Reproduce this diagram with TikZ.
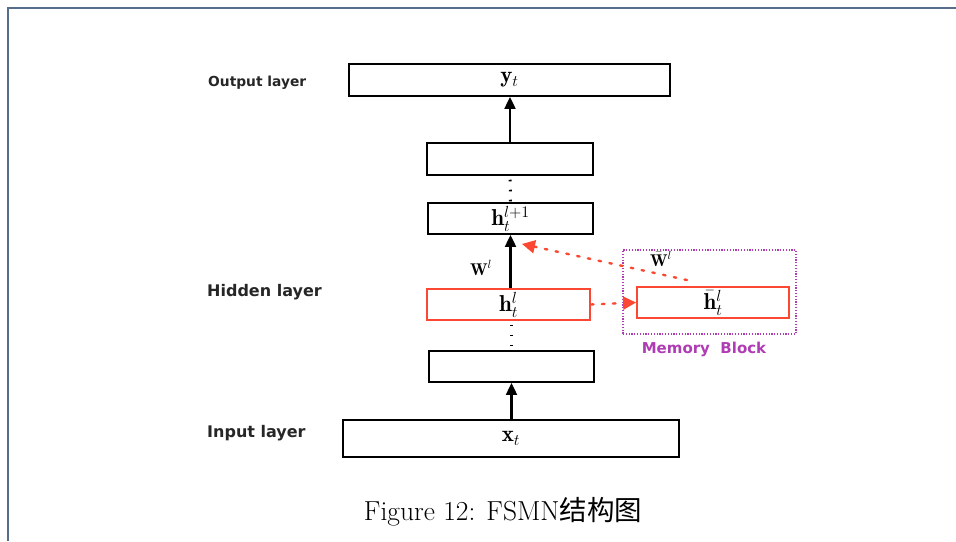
\documentclass[tikz,border=0pt]{standalone}
\usepackage{fix-cm}
\usepackage{fontspec}
\usetikzlibrary{arrows.meta}
\newfontfamily\lblfont{DejaVu Sans}
\newfontfamily\cjk{Noto Sans CJK SC}

\definecolor{framecol}{RGB}{86,110,140}
\definecolor{memred}{RGB}{250,72,50}
\definecolor{mempurple}{RGB}{175,60,180}

\tikzset{
  layerbox/.style={draw=black, line width=1.9pt, minimum height=#1, inner sep=0pt},
  layerbox/.default=31pt,
  redbox/.style={draw=memred, line width=1.9pt, minimum height=31pt, inner sep=0pt},
  sidelabel/.style={anchor=west, inner sep=0pt, font=\lblfont\bfseries\fontsize{16}{18}\selectfont, text=black!85},
  mathlbl/.style={inner sep=0pt, font=\fontsize{23}{27}\selectfont},
  wlbl/.style={inner sep=0pt, font=\fontsize{17}{20}\selectfont},
  uparrow/.style={line width=2.2pt, -{Triangle[length=12pt,width=11pt]}},
  redarrow/.style={draw=memred, line width=2.4pt, dash pattern=on 2.5pt off 8.5pt, line cap=round,
                   -{Triangle[length=13pt,width=13pt,fill=memred]}},
  gapdots/.style={line width=3pt, dash pattern=on 1.6pt off 8.4pt, dash phase=6.2pt}
}

\begin{document}
\begin{tikzpicture}[x=1pt, y=-1pt]
  \useasboundingbox (0,0) rectangle (956,541);

  % page frame
  \draw[framecol, line width=2pt] (7.5,541) -- (7.5,7.5) -- (956,7.5);

  % layer boxes
  \node[layerbox=32pt, minimum width=321pt] (out) at (509.5,80) {};
  \node[mathlbl] at (out) {$\mathbf{y}_t$};
  \node[layerbox=32pt, minimum width=166pt] (b2) at (510,159) {};
  \node[layerbox, minimum width=165pt] (hl1) at (510.5,218.5) {};
  \node[mathlbl] at (hl1) {$\mathbf{h}_t^{l+1}$};
  \node[redbox, minimum width=163pt] (hl) at (508.5,304.5) {};
  \node[mathlbl] at (hl) {$\mathbf{h}_t^{l}$};
  \node[layerbox, minimum width=165pt] (b4) at (511.5,366.5) {};
  \node[layerbox=37pt, minimum width=336pt] (xin) at (511,438.5) {};
  \node[mathlbl] at (xin) {$\mathbf{x}_t$};

  % memory block
  \node[draw=mempurple, line width=1.6pt, dash pattern=on 1.2pt off 1.6pt,
        minimum width=173pt, minimum height=84pt, inner sep=0pt] (mem) at (709.5,292) {};
  \node[redbox, minimum width=152pt] (ht) at (713,302.5) {};
  \node[mathlbl] at (ht) {$\bar{\mathbf{h}}_t^{l}$};
  \node[inner sep=0pt, text=mempurple, font=\lblfont\bfseries\fontsize{15}{17}\selectfont]
    (memlbl) at (704,349) {Memory\ \ Block};

  % side labels
  \node[sidelabel, font=\lblfont\bfseries\fontsize{13.8}{16}\selectfont] (lout) at (208,83) {Output layer};
  \node[sidelabel] (lhid) at (207,292) {Hidden layer};
  \node[sidelabel] (lin) at (207,433) {Input layer};

  % forward connections
  \draw[uparrow] (xin.north -| b4) -- (b4.south);
  \draw[uparrow] (hl.north -| hl1) -- (hl1.south);
  \draw[uparrow] (b2.north) -- (b2.north |- out.south);
  \draw[gapdots] (b2.south) -- (hl1.north);
  \draw[gapdots] (hl.south -| b4) -- (b4.north);

  % weight labels
  \node[wlbl] (w) at (481,268) {$\mathbf{W}^{l}$};
  \node[wlbl] (wb) at (661,259) {$\bar{\mathbf{W}}^{l}$};

  % memory connections
  \draw[redarrow] (hl.east) -- (ht.west);
  \draw[redarrow] ([xshift=-26pt,yshift=6pt]ht.north) -- ([xshift=11.5pt,yshift=-9pt]hl1.south);

  % caption
  \node[anchor=base, inner sep=0pt, font=\fontsize{27.5}{31}\selectfont] (cap) at (503,520)
    {Figure 12: FSMN{\cjk 结构图}};
\end{tikzpicture}
\end{document}
